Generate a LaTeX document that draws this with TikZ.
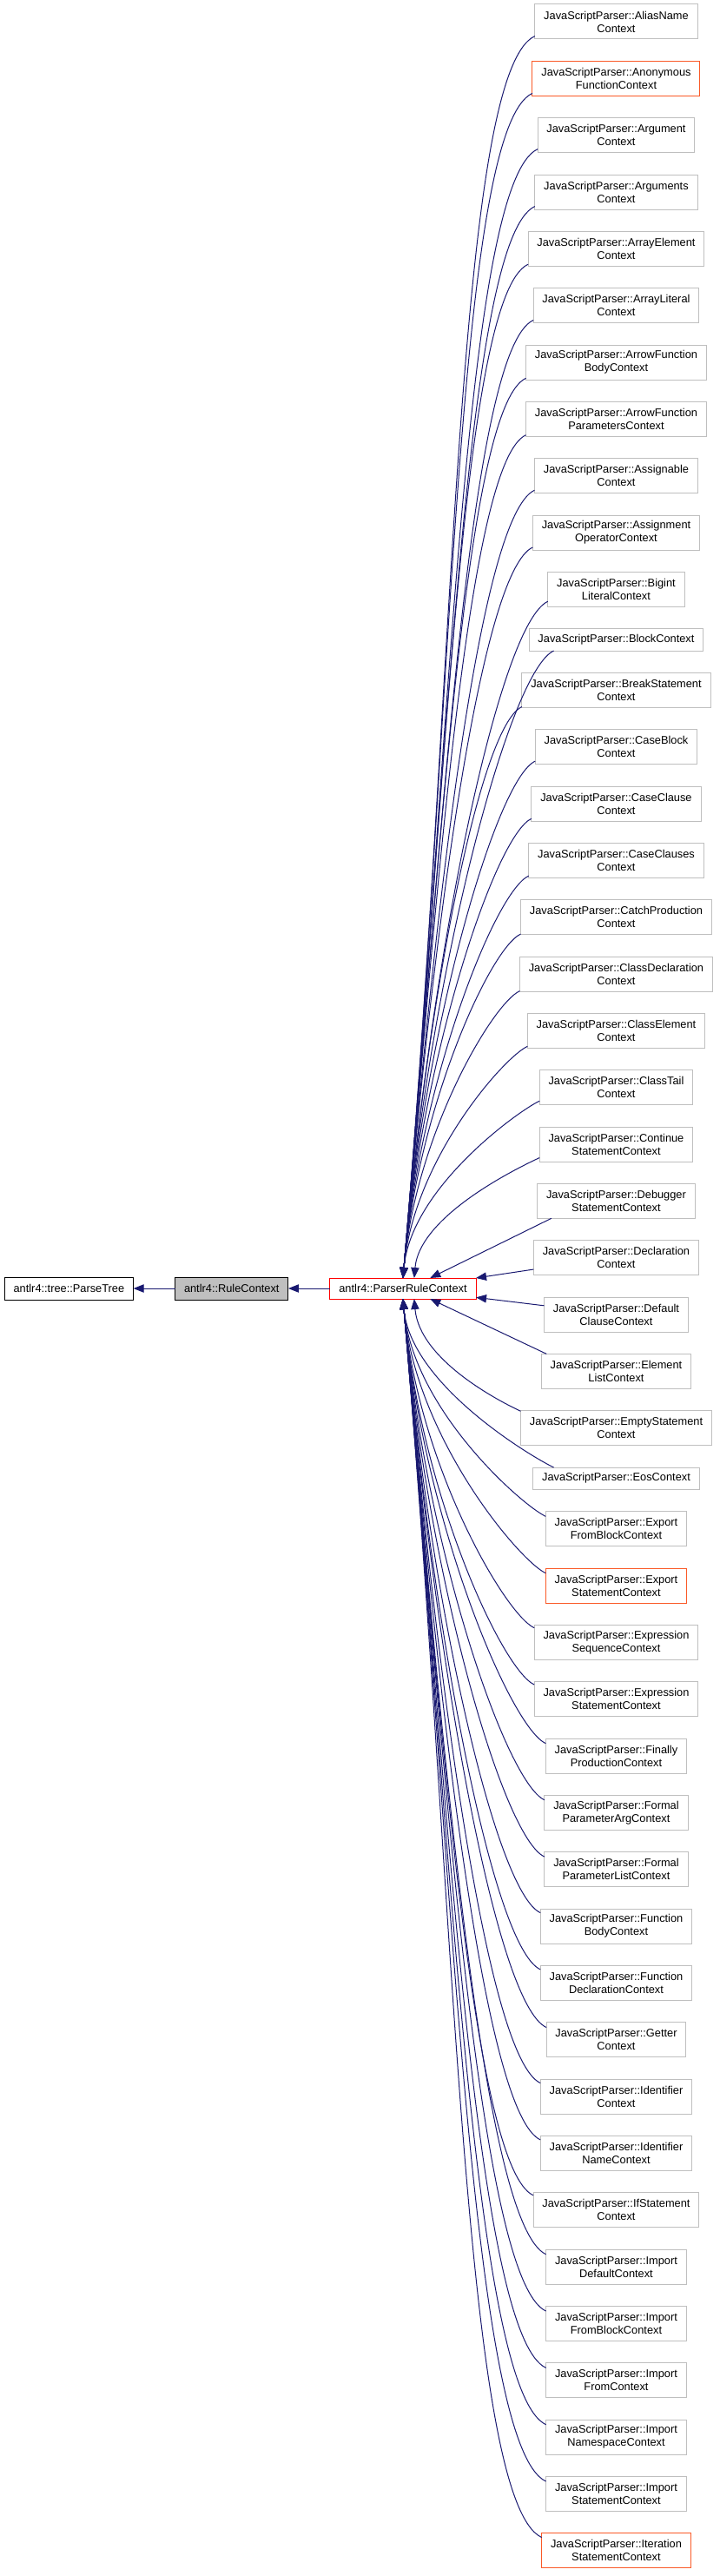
\documentclass[tikz,border=0pt]{standalone}
\usepackage{fontspec}
\setmainfont{Liberation Sans}
\definecolor{edgeBlue}{HTML}{191970}
\definecolor{boxGrey}{HTML}{BFBFBF}
\definecolor{truncOrange}{HTML}{FA5A28}
\definecolor{truncRed}{HTML}{FF0000}
\usepackage{tikz}
\usetikzlibrary{arrows.meta,positioning}

\begin{document}
\begin{tikzpicture}[
    node distance=19pt and 36pt,
    cls/.style={draw=boxGrey, line width=0.75pt, minimum height=30pt, outer sep=0pt,
                inner xsep=7.8pt, inner ysep=0pt, align=center},
    oneline/.style={minimum height=19pt},
    trunc/.style={draw=truncOrange},
    inh/.style={-{Triangle[length=9pt, width=7pt]}, draw=edgeBlue, line width=0.75pt},
    every node/.style={font=\fontsize{9.6}{11.25}\selectfont}
  ]
    \useasboundingbox (0,0) rectangle (621pt,-2223.75pt);

    % inheritance chain
    \node[cls, draw=truncRed, minimum height=18pt] (prc) at (348pt,-1112.25pt) {antlr4::ParserRuleContext};
    \node[cls, draw=black, fill=boxGrey, minimum height=19.5pt, left=of prc] (rc) {antlr4::RuleContext};
    \node[cls, draw=black, minimum height=19.5pt, left=of rc] (pt) {antlr4::tree::ParseTree};

    \draw[inh] (rc) -- (pt);
    \draw[inh] (prc) -- (rc);

    % derived contexts
    \node[cls] (alias) at (532.1pt,-18.75pt) {JavaScriptParser::AliasName\\Context};
    \node[cls, trunc, below=of alias] (anonfn) {JavaScriptParser::Anonymous\\FunctionContext};
    \node[cls, below=of anonfn] (argument) {JavaScriptParser::Argument\\Context};
    \node[cls, below=of argument] (arguments) {JavaScriptParser::Arguments\\Context};
    \node[cls, below=of arguments] (arrayelem) {JavaScriptParser::ArrayElement\\Context};
    \node[cls, below=of arrayelem] (arraylit) {JavaScriptParser::ArrayLiteral\\Context};
    \node[cls, below=of arraylit] (arrowbody) {JavaScriptParser::ArrowFunction\\BodyContext};
    \node[cls, below=of arrowbody] (arrowparams) {JavaScriptParser::ArrowFunction\\ParametersContext};
    \node[cls, below=of arrowparams] (assignable) {JavaScriptParser::Assignable\\Context};
    \node[cls, below=of assignable] (assignop) {JavaScriptParser::Assignment\\OperatorContext};
    \node[cls, below=of assignop] (bigint) {JavaScriptParser::Bigint\\LiteralContext};
    \node[cls, oneline, below=of bigint] (block) {JavaScriptParser::BlockContext};
    \node[cls, below=of block] (breakstmt) {JavaScriptParser::BreakStatement\\Context};
    \node[cls, below=of breakstmt] (caseblock) {JavaScriptParser::CaseBlock\\Context};
    \node[cls, below=of caseblock] (caseclause) {JavaScriptParser::CaseClause\\Context};
    \node[cls, below=of caseclause] (caseclauses) {JavaScriptParser::CaseClauses\\Context};
    \node[cls, below=of caseclauses] (catchprod) {JavaScriptParser::CatchProduction\\Context};
    \node[cls, below=of catchprod] (classdecl) {JavaScriptParser::ClassDeclaration\\Context};
    \node[cls, below=of classdecl] (classelem) {JavaScriptParser::ClassElement\\Context};
    \node[cls, below=of classelem] (classtail) {JavaScriptParser::ClassTail\\Context};
    \node[cls, below=of classtail] (continuestmt) {JavaScriptParser::Continue\\StatementContext};
    \node[cls, below=of continuestmt] (debuggerstmt) {JavaScriptParser::Debugger\\StatementContext};
    \node[cls, below=of debuggerstmt] (declaration) {JavaScriptParser::Declaration\\Context};
    \node[cls, below=of declaration] (defaultclause) {JavaScriptParser::Default\\ClauseContext};
    \node[cls, below=of defaultclause] (elemlist) {JavaScriptParser::Element\\ListContext};
    \node[cls, below=of elemlist] (emptystmt) {JavaScriptParser::EmptyStatement\\Context};
    \node[cls, oneline, below=of emptystmt] (eos) {JavaScriptParser::EosContext};
    \node[cls, below=of eos] (exportfrom) {JavaScriptParser::Export\\FromBlockContext};
    \node[cls, trunc, below=of exportfrom] (exportstmt) {JavaScriptParser::Export\\StatementContext};
    \node[cls, below=of exportstmt] (exprseq) {JavaScriptParser::Expression\\SequenceContext};
    \node[cls, below=of exprseq] (exprstmt) {JavaScriptParser::Expression\\StatementContext};
    \node[cls, below=of exprstmt] (finallyprod) {JavaScriptParser::Finally\\ProductionContext};
    \node[cls, below=of finallyprod] (formalarg) {JavaScriptParser::Formal\\ParameterArgContext};
    \node[cls, below=of formalarg] (formallist) {JavaScriptParser::Formal\\ParameterListContext};
    \node[cls, below=of formallist] (funcbody) {JavaScriptParser::Function\\BodyContext};
    \node[cls, below=of funcbody] (funcdecl) {JavaScriptParser::Function\\DeclarationContext};
    \node[cls, below=of funcdecl] (getter) {JavaScriptParser::Getter\\Context};
    \node[cls, below=of getter] (identifier) {JavaScriptParser::Identifier\\Context};
    \node[cls, below=of identifier] (identname) {JavaScriptParser::Identifier\\NameContext};
    \node[cls, below=of identname] (ifstmt) {JavaScriptParser::IfStatement\\Context};
    \node[cls, below=of ifstmt] (importdefault) {JavaScriptParser::Import\\DefaultContext};
    \node[cls, below=of importdefault] (importfromblock) {JavaScriptParser::Import\\FromBlockContext};
    \node[cls, below=of importfromblock] (importfrom) {JavaScriptParser::Import\\FromContext};
    \node[cls, below=of importfrom] (importns) {JavaScriptParser::Import\\NamespaceContext};
    \node[cls, below=of importns] (importstmt) {JavaScriptParser::Import\\StatementContext};
    \node[cls, trunc, below=of importstmt] (iterstmt) {JavaScriptParser::Iteration\\StatementContext};

    % edges into the top of ParserRuleContext
    \draw[inh] (alias.190) .. controls +(205:75pt) and +(85:521pt) .. (prc.north);
    \draw[inh] (anonfn.190) .. controls +(205:72pt) and +(85:497pt) .. (prc.north);
    \draw[inh] (argument.190) .. controls +(205:69pt) and +(85:473pt) .. (prc.north);
    \draw[inh] (arguments.190) .. controls +(205:66pt) and +(85:450pt) .. (prc.north);
    \draw[inh] (arrayelem.190) .. controls +(205:63pt) and +(85:426pt) .. (prc.north);
    \draw[inh] (arraylit.190) .. controls +(205:60pt) and +(85:403pt) .. (prc.north);
    \draw[inh] (arrowbody.190) .. controls +(205:57pt) and +(85:379pt) .. (prc.north);
    \draw[inh] (arrowparams.190) .. controls +(205:54pt) and +(85:356pt) .. (prc.north);
    \draw[inh] (assignable.190) .. controls +(205:52pt) and +(85:332pt) .. (prc.north);
    \draw[inh] (assignop.190) .. controls +(205:49pt) and +(85:309pt) .. (prc.north);
    \draw[inh] (bigint.190) .. controls +(205:46pt) and +(85:285pt) .. (prc.north);
    \draw[inh] (block.190) .. controls +(205:43pt) and +(85:264pt) .. (prc.north);
    \draw[inh] (breakstmt.190) .. controls +(205:40pt) and +(85:243pt) .. (prc.north);
    \draw[inh] (caseblock.190) .. controls +(205:37pt) and +(85:220pt) .. (prc.north);
    \draw[inh] (caseclause.190) .. controls +(205:34pt) and +(85:196pt) .. (prc.north);
    \draw[inh] (caseclauses.190) .. controls +(205:32pt) and +(85:172pt) .. (prc.north);
    \draw[inh] (catchprod.190) .. controls +(205:29pt) and +(85:149pt) .. (prc.north);
    \draw[inh] (classdecl.190) .. controls +(205:26pt) and +(85:125pt) .. (prc.north);
    \draw[inh] (classelem.190) .. controls +(205:23pt) and +(85:102pt) .. (prc.north);
    \draw[inh] (classtail.190) .. controls +(205:20pt) and +(85:78pt) .. (prc.north);
    \draw[inh] (continuestmt.190) .. controls +(205:17pt) and +(85:55pt) .. (prc.43);

    % the near ones
    \draw[inh] (debuggerstmt.195) -- (prc.21);
    \draw[inh] (declaration.188) -- (prc.north east);
    \draw[inh] (defaultclause.173) -- (prc.353);
    \draw[inh] (elemlist.166) -- (prc.339);

    % edges into the bottom of ParserRuleContext
    \draw[inh] (emptystmt.170) .. controls +(155:17pt) and +(275:54pt) .. (prc.317);
    \draw[inh] (eos.170) .. controls +(155:19pt) and +(275:75pt) .. (prc.south);
    \draw[inh] (exportfrom.170) .. controls +(155:22pt) and +(275:96pt) .. (prc.south);
    \draw[inh] (exportstmt.170) .. controls +(155:25pt) and +(275:120pt) .. (prc.south);
    \draw[inh] (exprseq.170) .. controls +(155:28pt) and +(275:143pt) .. (prc.south);
    \draw[inh] (exprstmt.170) .. controls +(155:31pt) and +(275:167pt) .. (prc.south);
    \draw[inh] (finallyprod.170) .. controls +(155:34pt) and +(275:190pt) .. (prc.south);
    \draw[inh] (formalarg.170) .. controls +(155:37pt) and +(275:214pt) .. (prc.south);
    \draw[inh] (formallist.170) .. controls +(155:40pt) and +(275:238pt) .. (prc.south);
    \draw[inh] (funcbody.170) .. controls +(155:43pt) and +(275:261pt) .. (prc.south);
    \draw[inh] (funcdecl.170) .. controls +(155:46pt) and +(275:285pt) .. (prc.south);
    \draw[inh] (getter.170) .. controls +(155:49pt) and +(275:308pt) .. (prc.south);
    \draw[inh] (identifier.170) .. controls +(155:51pt) and +(275:332pt) .. (prc.south);
    \draw[inh] (identname.170) .. controls +(155:54pt) and +(275:355pt) .. (prc.south);
    \draw[inh] (ifstmt.170) .. controls +(155:57pt) and +(275:379pt) .. (prc.south);
    \draw[inh] (importdefault.170) .. controls +(155:60pt) and +(275:402pt) .. (prc.south);
    \draw[inh] (importfromblock.170) .. controls +(155:63pt) and +(275:426pt) .. (prc.south);
    \draw[inh] (importfrom.170) .. controls +(155:66pt) and +(275:449pt) .. (prc.south);
    \draw[inh] (importns.170) .. controls +(155:69pt) and +(275:473pt) .. (prc.south);
    \draw[inh] (importstmt.170) .. controls +(155:72pt) and +(275:496pt) .. (prc.south);
    \draw[inh] (iterstmt.170) .. controls +(155:75pt) and +(275:520pt) .. (prc.south);
\end{tikzpicture}
\end{document}
